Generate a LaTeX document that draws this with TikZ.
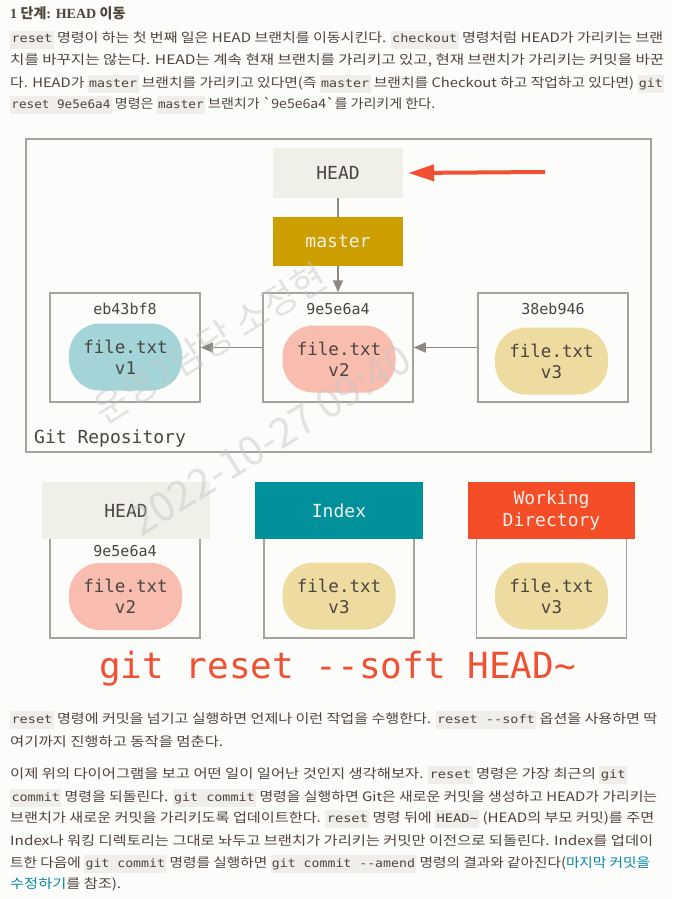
\documentclass[tikz,border=0pt]{standalone}
\usepackage{fontspec}
\usepackage{graphicx}
\usetikzlibrary{arrows.meta}
\newfontfamily\kr{Noto Sans CJK KR}
\newfontfamily\dmono{DejaVu Sans Mono}
\newfontfamily\cmono{DejaVu Sans Mono}[Scale=0.9]
\newfontfamily\hserif{Liberation Serif}
\definecolor{pagebg}{HTML}{FCFCFA}
\definecolor{bodytxt}{HTML}{4E443C}
\definecolor{codebg}{HTML}{EFEEEA}
\definecolor{linkc}{HTML}{0388A6}
\definecolor{boxgray}{HTML}{A5A19B}
\definecolor{arrgray}{HTML}{8E8882}
\definecolor{txtdark}{HTML}{4A4540}
\definecolor{headfill}{HTML}{F0EFE8}
\definecolor{masterfill}{HTML}{CC9E00}
\definecolor{indexfill}{HTML}{00919A}
\definecolor{wdfill}{HTML}{F44D27}
\definecolor{gitred}{HTML}{F05133}
\definecolor{blobA}{HTML}{A3D5D8}
\definecolor{blobB}{HTML}{F9BDAF}
\definecolor{blobC}{HTML}{EEDBA0}
\definecolor{wmark}{HTML}{C4C4C4}
\newcommand\cd[1]{{\setlength{\fboxsep}{1.2pt}\colorbox{codebg}{\cmono\strut#1}}}
\newcommand\tline[4]{\node[bodyline] (#1) at (10,#2) {\resizebox{#3pt}{\height}{#4}};}
\tikzset{
  bodyline/.style={anchor=base west, inner sep=0pt, text=bodytxt, font=\kr\fontsize{13}{16}\selectfont},
  commitbox/.style={draw=boxgray, line width=1.5pt, minimum width=150pt, minimum height=109pt, inner sep=0pt},
  lowbox/.style={draw=boxgray, line width=1.5pt, minimum width=150pt, minimum height=100pt, inner sep=0pt},
  hdrbox/.style={minimum width=168pt, minimum height=57pt, inner sep=0pt, font=\dmono\fontsize{18}{22}\selectfont, align=center},
  reflabel/.style={minimum width=130pt, minimum height=50pt, inner sep=0pt, font=\dmono\fontsize{18}{22}\selectfont},
  hashlbl/.style={inner sep=0pt, text=txtdark, font=\dmono\fontsize{15}{18}\selectfont},
  blob/.style={minimum width=113pt, minimum height=67pt, rounded corners=31pt, inner sep=0pt, text=txtdark, align=center, font=\dmono\fontsize{17.5}{21}\selectfont},
  grayline/.style={draw=arrgray, line width=1.5pt},
  grayarrow/.style={draw=arrgray, line width=1.5pt, -{Triangle[length=12pt,width=10pt]}},
  redarrow/.style={draw=gitred, line width=4pt, -{Triangle[length=26pt,width=16pt]}},
  wm/.style={text=wmark, opacity=0.45, rotate=32, inner sep=0pt, font=\kr}
}
\begin{document}
\begin{tikzpicture}[x=1pt,y=-1pt]
\path[use as bounding box, fill=pagebg] (0,0) rectangle (672,899);
% heading
\node[anchor=base west, inner sep=0pt, text=bodytxt, font=\fontsize{14}{17}\selectfont] (title) at (10,19)
  {{\hserif\bfseries 1 }{\kr\bfseries 단계}{\hserif\bfseries : HEAD }{\kr\bfseries 이동}};
% paragraph 1
\tline{pa}{43}{653}{\cd{reset} 명령이 하는 첫 번째 일은 HEAD 브랜치를 이동시킨다. \cd{checkout} 명령처럼 HEAD가 가리키는 브랜}
\tline{pb}{65}{654}{치를 바꾸지는 않는다. HEAD는 계속 현재 브랜치를 가리키고 있고, 현재 브랜치가 가리키는 커밋을 바꾼}
\tline{pc}{87}{654}{다. HEAD가 \cd{master} 브랜치를 가리키고 있다면(즉 \cd{master} 브랜치를 Checkout 하고 작업하고 있다면) \cd{git}}
\tline{pd}{108}{425}{\cd{reset 9e5e6a4} 명령은 \cd{master} 브랜치가 \char96 9e5e6a4\char96 를 가리키게 한다.}
% repository
\node[draw=boxgray, line width=1.5pt, minimum width=625pt, minimum height=313pt, inner sep=0pt] (repo) at (338.5,295.5) {};
\node[anchor=west, inner sep=0pt, text=txtdark, font=\dmono\fontsize{18}{22}\selectfont] (repolbl) at (34,439) {Git Repository};
\node[reflabel, fill=headfill, text=txtdark] (head) at (338,173) {HEAD};
\node[reflabel, fill=masterfill, text=headfill, minimum height=49pt] (master) at (338,241.5) {master};
\node[commitbox] (c1) at (125,347.5) {};
\node[commitbox] (c2) at (338,347.5) {};
\node[commitbox] (c3) at (553,347.5) {};
\node[hashlbl] (h1) at (125,309) {eb43bf8};
\node[hashlbl] (h2) at (338,309) {9e5e6a4};
\node[hashlbl] (h3) at (553,309) {38eb946};
\node[blob, fill=blobA] (f1) at (125.5,357) {file.txt\\v1};
\node[blob, fill=blobB] (f2) at (339,359) {file.txt\\v2};
\node[blob, fill=blobC] (f3) at (551.5,361) {file.txt\\v3};
\draw[grayline] (head.south) -- (master.north);
\draw[grayarrow] (master.south) -- (c2.north);
\draw[grayarrow] (c2.west) -- (c1.east);
\draw[grayarrow] (c3.west) -- (c2.east);
\coordinate (redtail) at (545,172);
\draw[redarrow] (redtail) -- ([xshift=5pt]head.east);
% three trees
\node[lowbox] (b1) at (125,588) {};
\node[lowbox] (b2) at (339,588) {};
\node[lowbox] (b3) at (551.5,588) {};
\node[hdrbox, fill=headfill, text=txtdark] (thead) at (126,510.5) {HEAD};
\node[hdrbox, fill=indexfill, text=headfill] (tindex) at (339,510.5) {Index};
\node[hdrbox, fill=wdfill, text=headfill, minimum width=167pt] (twd) at (551.5,510.5) {Working\\Directory};
\node[hashlbl] (h4) at (125,551) {9e5e6a4};
\node[blob, fill=blobB] (f4) at (125.5,596.5) {file.txt\\v2};
\node[blob, fill=blobC] (f5) at (339,596) {file.txt\\v3};
\node[blob, fill=blobC] (f6) at (551.5,596) {file.txt\\v3};
\node[anchor=base, inner sep=0pt, text=gitred, font=\dmono\fontsize{36}{40}\selectfont] (cmd) at (337.5,678) {git reset --soft HEAD\string~};
% watermark
\node[wm, font=\kr\fontsize{37}{42}\selectfont] (wm1) at (210,343) {운영2담당 소정현};
\node[wm, font=\kr\fontsize{41}{46}\selectfont] (wm2) at (270,440) {2022-10-27 09:40};
% paragraphs 2 and 3
\tline{qa}{723}{647}{\cd{reset} 명령에 커밋을 넘기고 실행하면 언제나 이런 작업을 수행한다. \cd{reset --soft} 옵션을 사용하면 딱}
\tline{qb}{746}{213}{여기까지 진행하고 동작을 멈춘다.}
\tline{ra}{778}{617}{이제 위의 다이어그램을 보고 어떤 일이 일어난 것인지 생각해보자. \cd{reset} 명령은 가장 최근의 \cd{git}}
\tline{rb}{801}{647}{\cd{commit} 명령을 되돌린다. \cd{git commit} 명령을 실행하면 Git은 새로운 커밋을 생성하고 HEAD가 가리키는}
\tline{rc}{822}{644}{브랜치가 새로운 커밋을 가리키도록 업데이트한다. \cd{reset} 명령 뒤에 \cd{HEAD\string~} (HEAD의 부모 커밋)를 주면}
\tline{rd}{845}{643}{Index나 워킹 디렉토리는 그대로 놔두고 브랜치가 가리키는 커밋만 이전으로 되돌린다. Index를 업데이}
\tline{re}{867}{640}{트한 다음에 \cd{git commit} 명령를 실행하면 \cd{git commit --amend} 명령의 결과와 같아진다({\color{linkc}마지막 커밋을}}
\tline{rf}{888}{111}{{\color{linkc}수정하기}를 참조).}
\end{tikzpicture}
\end{document}
